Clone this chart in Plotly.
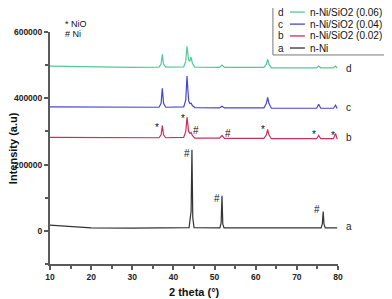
import plotly.graph_objects as go

# ---- data ----
a_x = [10, 15, 20, 30, 40, 43.8, 44.1, 44.3, 44.5, 44.7, 45.0, 51.3, 51.6, 51.8, 52.0, 52.3,
       75.9, 76.2, 76.4, 76.6, 76.9, 79.8]
a_y = [17000, 12000, 9000, 8000, 8000, 10000, 40000, 60000, 245000, 40000, 10000, 9000, 25000,
       106000, 20000, 9000, 9000, 22000, 58000, 20000, 9000, 9000]

peak_x = [10, 20, 30, 36.5, 37.0, 37.3, 37.6, 38.1, 42.5, 43.0, 43.3, 43.7, 44.0, 44.3, 44.6, 45.2,
          51.2, 51.8, 52.4, 62.0, 62.6, 62.9, 63.2, 63.8, 74.8, 75.3, 75.8, 78.9, 79.4, 79.8]
b_y = [282000, 281000, 280000, 281000, 290000, 318000, 290000, 281000, 282000, 300000, 343000,
       300000, 294000, 297000, 288000, 280000, 280000, 288000, 279000, 279000, 290000, 306000,
       290000, 278000, 278000, 288000, 278000, 278000, 294000, 277000]
c_y = [374000, 373000, 372000, 373000, 385000, 430000, 385000, 373000, 374000, 395000, 467000,
       392000, 384000, 385000, 378000, 372000, 371000, 376000, 371000, 371000, 385000, 403000,
       385000, 370000, 370000, 382000, 370000, 370000, 379000, 369000]
d_y = [497000, 494000, 493000, 494000, 503000, 533000, 503000, 494000, 495000, 512000, 557000,
       515000, 512000, 524000, 506000, 494000, 493000, 500000, 493000, 493000, 503000, 518000,
       503000, 492000, 492000, 497000, 492000, 492000, 497000, 491000]

series_letters = ["d", "c", "b", "a"]
series_names = ["n-Ni/SiO2 (0.06)", "n-Ni/SiO2 (0.04)", "n-Ni/SiO2 (0.02)", "n-Ni"]
series_colors = ["#52c99c", "#4646d6", "#c9305c", "#333333"]
series_x = [peak_x, peak_x, peak_x, a_x]
series_y = [d_y, c_y, b_y, a_y]

# peak marks: (symbol, x, y)
marks = [("*", 36.0, 312000), ("*", 42.3, 339000), ("#", 45.5, 303000), ("#", 53.3, 294000),
         ("*", 61.8, 306000), ("*", 74.2, 291000), ("*", 78.8, 288000),
         ("#", 43.3, 233000), ("#", 50.6, 97000), ("#", 74.9, 64000)]
end_labels_y = [491000, 373000, 282000, 12000]

x_ticks = [10, 20, 30, 40, 50, 60, 70, 80]
y_ticks = [0, 200000, 400000, 600000]

fig = go.Figure()
for xs, ys, col, name in zip(series_x, series_y, series_colors, series_names):
    fig.add_trace(go.Scatter(x=xs, y=ys, mode="lines", name=name,
                             line=dict(color=col, width=1.2), showlegend=False))

ann = []
for sym, mx, my in marks:
    ann.append(dict(x=mx, y=my, xref="x", yref="y", text=sym, showarrow=False,
                    xanchor="center", yanchor="middle",
                    font=dict(family="Arial", size=10, color="#111")))
for lt, ly in zip(series_letters, end_labels_y):
    ann.append(dict(x=1.022, y=ly, xref="paper", yref="y", text=lt, showarrow=False,
                    xanchor="left", yanchor="middle",
                    font=dict(family="Arial", size=10, color="#222")))
ann.append(dict(x=0.045, y=1.034, xref="paper", yref="paper", text="* NiO", showarrow=False,
                xanchor="left", yanchor="middle", font=dict(family="Arial", size=9, color="#111")))
ann.append(dict(x=0.045, y=0.991, xref="paper", yref="paper", text="# Ni", showarrow=False,
                xanchor="left", yanchor="middle", font=dict(family="Arial", size=9, color="#111")))
# axis titles
ann.append(dict(x=0.5, y=-0.121, xref="paper", yref="paper", text="2 theta (°)", showarrow=False,
                xanchor="center", yanchor="middle",
                font=dict(family="Arial", size=11, color="#111", weight="bold")))
ann.append(dict(x=-0.128, y=0.5, xref="paper", yref="paper", text="Intensity (a.u)",
                showarrow=False, textangle=-90, xanchor="center", yanchor="middle",
                font=dict(family="Arial", size=11, color="#111", weight="bold")))

# manual legend box
shapes = [dict(type="rect", xref="paper", yref="paper", x0=0.774, x1=1.181, y0=0.901, y1=1.129,
               line=dict(color="#777", width=1), fillcolor="white")]
row_y = [1.086, 1.034, 0.983, 0.931]
for lt, nm, col, ry in zip(series_letters, series_names, series_colors, row_y):
    shapes.append(dict(type="line", xref="paper", yref="paper", x0=0.833, x1=0.885, y0=ry, y1=ry,
                       line=dict(color=col, width=1.3)))
    ann.append(dict(x=0.802, y=ry, xref="paper", yref="paper", text=lt, showarrow=False,
                    xanchor="center", yanchor="middle",
                    font=dict(family="Arial", size=10, color="#222")))
    ann.append(dict(x=0.896, y=ry, xref="paper", yref="paper", text=nm, showarrow=False,
                    xanchor="left", yanchor="middle",
                    font=dict(family="Arial", size=10, color="#111")))

axis_common = dict(showline=True, linecolor="#5a5a5a", linewidth=2, ticks="outside",
                   ticklen=4, tickwidth=1.5, tickcolor="#5a5a5a", showgrid=False, zeroline=False,
                   tickfont=dict(family="Arial", size=8.5, color="#222", weight="bold"),
                   mirror=False, automargin=False)
# the page adds an 8px body margin, so the margins are shifted by 8px
fig.update_layout(
    width=392, height=299,
    margin=dict(l=42, r=62, t=24, b=43),
    paper_bgcolor="white", plot_bgcolor="white",
    xaxis=dict(range=[10, 80], tickvals=x_ticks, **axis_common,
               minor=dict(dtick=5, ticks="outside", ticklen=3, tickwidth=1.5, tickcolor="#5a5a5a")),
    yaxis=dict(range=[-100000, 600000], tickvals=y_ticks, tickformat="d", **axis_common,
               minor=dict(dtick=100000, ticks="outside", ticklen=3, tickwidth=1.5, tickcolor="#5a5a5a")),
    annotations=ann, shapes=shapes,
)
fig.write_html("out.html")
